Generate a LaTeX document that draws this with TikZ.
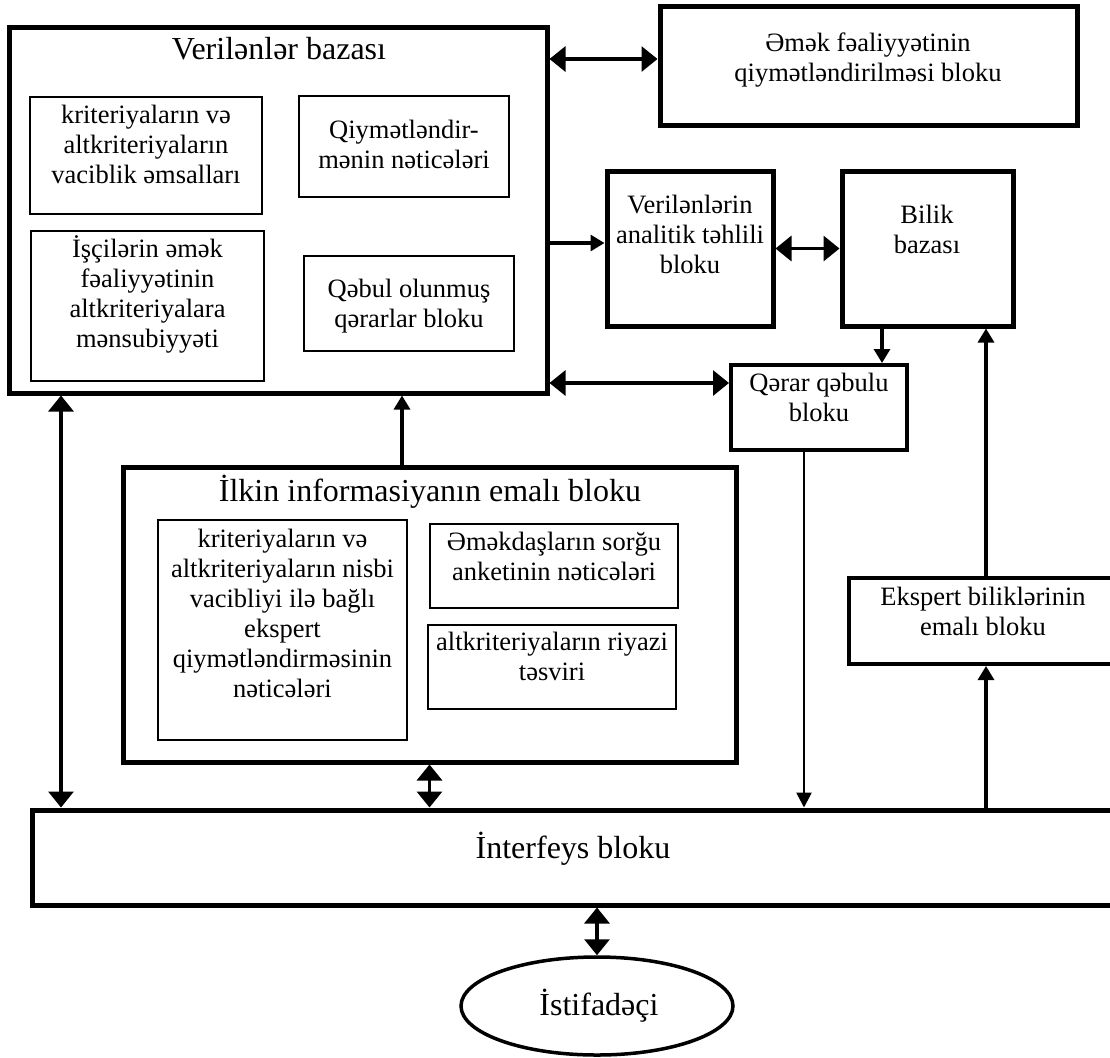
\documentclass[tikz,border=0pt]{standalone}
\usepackage{fontspec}
\setmainfont{Liberation Serif}
\usetikzlibrary{arrows.meta,shapes.geometric}

\begin{document}
\begin{tikzpicture}[x=0.5pt,y=-0.5pt]
        \tikzstyle{blok}=[draw,line width=2.5pt,inner sep=0pt]
        \tikzstyle{orta}=[draw,line width=2pt,inner sep=0pt]
        \tikzstyle{ramka}=[draw,line width=1.2pt,inner sep=0pt]
        \tikzstyle{yazi}=[align=center,inner sep=0pt,anchor=north,font=\fontsize{13.25}{15}\selectfont]
        \tikzstyle{basliq}=[inner sep=0pt,anchor=base,font=\fontsize{16}{18}\selectfont]
        \tikzstyle{ikili}=[line width=1.6pt,{Triangle[length=8pt,width=12.5pt]}-{Triangle[length=8pt,width=12.5pt]}]
        \tikzstyle{tek}=[line width=1.6pt,-{Triangle[length=7pt,width=8pt]}]
        \tikzstyle{nazik}=[line width=1.3pt,-{Triangle[length=7.5pt,width=7.5pt]}]

        \useasboundingbox (0,0) rectangle (1110,1057);

        % verilenler bazasi
        \node[blok,minimum width=269pt,minimum height=183pt](vb) at (278,210){};
        \node[basliq](vbt) at (279,59){Verilənlər bazası};
        \node[ramka,minimum width=116pt,minimum height=58.5pt](k1) at (146,155.5){};
        \node[yazi](k1t) at (146,105){kriteriyaların və\\altkriteriyaların\\vaciblik əmsalları};
        \node[ramka,minimum width=105pt,minimum height=50.5pt](q1) at (404,146.5){};
        \node[yazi](q1t) at (404,120){Qiymətləndir-\\mənin nəticələri};
        \node[ramka,minimum width=116.5pt,minimum height=75pt](i1) at (147.5,306){};
        \node[yazi](i1t) at (147.5,235){İşçilərin əmək\\fəaliyyətinin\\altkriteriyalara\\mənsubiyyəti};
        \node[ramka,minimum width=105pt,minimum height=47.5pt](q2) at (409,303.5){};
        \node[yazi](q2t) at (409,279){Qəbul olunmuş\\qərarlar bloku};

        % sag teref
        \node[blok,minimum width=208.5pt,minimum height=59.5pt](em) at (868.5,65.5){};
        \node[yazi](emt) at (868,32){Əmək fəaliyyətinin\\qiymətləndirilməsi bloku};
        \node[blok,minimum width=83pt,minimum height=77.5pt](an) at (690,248.5){};
        \node[yazi](ant) at (690,195){Verilənlərin\\analitik təhlili\\bloku};
        \node[blok,minimum width=85.5pt,minimum height=77.5pt](bb) at (927.5,248.5){};
        \node[yazi](bbt) at (927,205){Bilik\\bazası};
        \node[orta,minimum width=88pt,minimum height=42.5pt](qq) at (819,407.5){};
        \node[yazi](qqt) at (819,373){Qərar qəbulu\\bloku};
        \node[orta,minimum width=134pt,minimum height=43pt](ex) at (983,621){};
        \node[yazi](ext) at (983,587){Ekspert biliklərinin\\emalı bloku};

        % ilkin informasiya
        \node[blok,minimum width=306.5pt,minimum height=147.5pt](ik) at (429.5,614.5){};
        \node[basliq](ikt) at (430,501){İlkin informasiyanın emalı bloku};
        \node[ramka,minimum width=124.5pt,minimum height=110pt](k2) at (282.5,630){};
        \node[yazi](k2t) at (282.5,529){kriteriyaların və\\altkriteriyaların nisbi\\vacibliyi ilə bağlı\\ekspert\\qiymətləndirməsinin\\nəticələri};
        \node[ramka,minimum width=124pt,minimum height=42pt](s1) at (554,566){};
        \node[yazi](s1t) at (554,532){Əməkdaşların sorğu\\anketinin nəticələri};
        \node[ramka,minimum width=124pt,minimum height=42pt](r1) at (552,667){};
        \node[yazi](r1t) at (552,632){altkriteriyaların riyazi\\təsviri};

        % interfeys ve istifadeci
        \node[blok,minimum width=541pt,minimum height=47.5pt](ib) at (573,857.5){};
        \node[basliq](ibt) at (573,858){İnterfeys bloku};
        \node[draw,ellipse,line width=1.75pt,minimum width=136pt,minimum height=49pt,inner sep=0pt](us) at (597,1006){};
        \node[basliq](ust) at (599,1015){İstifadəçi};

        \draw[ikili] ([yshift=3.25pt]em.west -| vb.east) -- ([yshift=3.25pt]em.west);
        \draw[tek] ([yshift=2.75pt]an.west -| vb.east) -- ([yshift=2.75pt]an.west);
        \draw[ikili] (an) -- (bb);
        \draw[tek] ([xshift=-22.75pt]bb.south) -- ([xshift=-22.75pt]bb.south |- qq.north);
        \draw[ikili] ([yshift=12.25pt]qq.west -| vb.east) -- ([yshift=12.25pt]qq.west);

        \draw[tek] ([xshift=-13.75pt]ik.north) -- ([xshift=-13.75pt]ik.north |- vb.south);
        \draw[ikili] ([xshift=-108.5pt]vb.south) -- ([xshift=-108.5pt]vb.south |- ib.north);
        \draw[ikili] (ik.south) -- (ik.south |- ib.north);
        \draw[nazik] ([xshift=-7.5pt]qq.south) -- ([xshift=-7.5pt]qq.south |- ib.north);

        \draw[tek] ([xshift=1.5pt]ex.south |- ib.north) -- ([xshift=1.5pt]ex.south);
        \draw[tek] ([xshift=1.5pt]ex.north) -- ([xshift=1.5pt]ex.north |- bb.south);
        \draw[ikili] (us.north) -- (us.north |- ib.south);

    \end{tikzpicture}
\end{document}
